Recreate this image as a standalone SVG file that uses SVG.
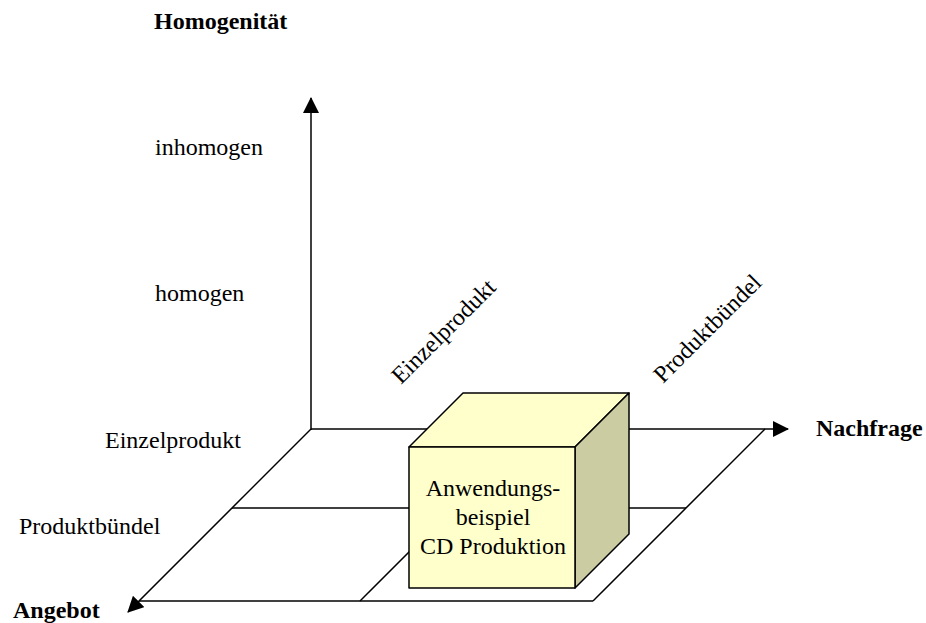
<svg xmlns="http://www.w3.org/2000/svg" width="926" height="623" viewBox="0 0 926 623">
<defs>
<style>
.ln{stroke:#000;stroke-width:1.5;fill:none}
.t{font-family:"Liberation Serif","Times New Roman",serif;font-size:24px;fill:#000}
.b{font-weight:bold}
.edge{stroke:#000;stroke-width:1.5;stroke-linejoin:round}
</style>
<marker id="ah" markerUnits="userSpaceOnUse" markerWidth="16" markerHeight="16" viewBox="0 0 16 16" refX="15" refY="8" orient="auto">
<path d="M0,0 L16,8 L0,16 Z" fill="#000"/>
</marker>
</defs>
<g id="connectors">
<line class="ln" x1="311" y1="430" x2="311" y2="98" marker-end="url(#ah)"/>
<line class="ln" x1="311" y1="429" x2="788" y2="429" marker-end="url(#ah)"/>
<line class="ln" x1="311" y1="429" x2="128" y2="612" marker-end="url(#ah)"/>
<line class="ln" x1="232" y1="508" x2="686" y2="508"/>
<line class="ln" x1="139" y1="601" x2="593" y2="601"/>
<line class="ln" x1="532" y1="429" x2="360" y2="601"/>
<line class="ln" x1="765" y1="429" x2="593" y2="601"/>
</g>
<g id="cube">
<polygon class="edge" points="409,447 463,393 629,393 575,447" fill="#FFFFCC"/>
<polygon class="edge" points="575,447 629,393 629,534 575,588" fill="#CCCCA3"/>
<rect class="edge" x="409" y="447" width="166" height="141" fill="#FFFFCC"/>
<text class="t" text-anchor="middle" x="493" y="496">Anwendungs-</text>
<text class="t" text-anchor="middle" x="493" y="525">beispiel</text>
<text class="t" text-anchor="middle" x="493" y="554">CD Produktion</text>
</g>
<g id="labels">
<text class="t b" x="154" y="29">Homogenität</text>
<text class="t" x="155" y="155">inhomogen</text>
<text class="t" x="155" y="301">homogen</text>
<text class="t" x="105" y="448">Einzelprodukt</text>
<text class="t" x="19" y="534">Produktbündel</text>
<text class="t b" x="816" y="436">Nachfrage</text>
<text class="t b" x="13" y="618">Angebot</text>
<text class="t" transform="translate(401,385) rotate(-45)">Einzelprodukt</text>
<text class="t" transform="translate(663,384) rotate(-45)">Produktbündel</text>
</g>
</svg>
